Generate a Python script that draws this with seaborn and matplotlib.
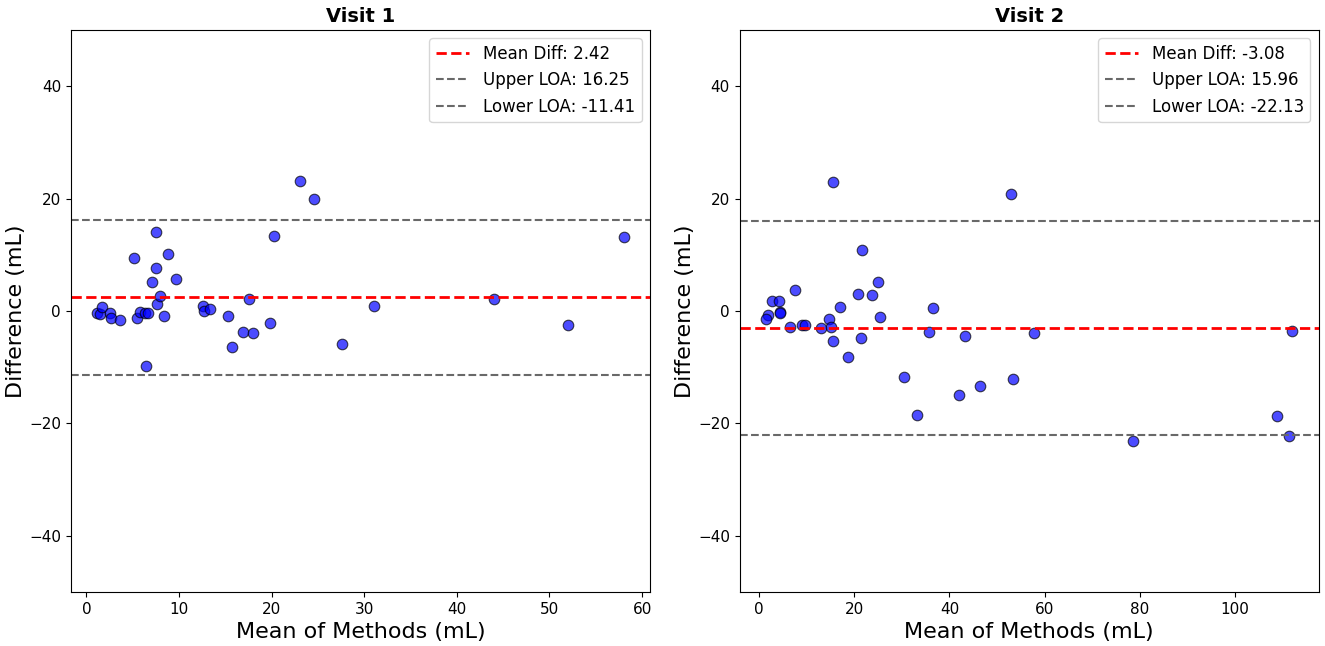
import seaborn as sns
import matplotlib.pyplot as plt
import pandas as pd

# Visit 1 - mean of methods vs difference
v1_mean = [1.15, 1.47, 1.69, 2.52, 2.66, 3.63, 5.17, 5.43, 5.78, 6.32, 6.67, 6.43,
           7.47, 7.50, 7.07, 7.58, 7.97, 8.40, 8.76, 9.69, 12.64, 12.67, 13.39,
           15.25, 15.68, 16.87, 17.98, 17.55, 19.77, 20.28, 23.04, 24.59, 27.56,
           31.0, 44.0, 52.0, 58.0]
v1_diff = [-0.41, -0.6, 0.77, -0.29, -1.19, -1.6, 9.37, -1.25, -0.24, -0.29, -0.29, -9.73,
           14.0, 7.59, 5.16, 1.19, 2.67, -0.83, 10.14, 5.69, 0.95, 0.0, 0.36,
           -0.95, -6.4, -3.68, -3.86, 2.08, -2.08, 13.35, 23.08, 19.98, -5.87,
           0.89, 2.08, -2.43, 13.2]

# Visit 2
v2_mean = [7.58, 2.63, 4.10, 4.30, 4.45, 1.92, 1.43, 6.4, 8.9, 9.7, 13.0, 14.7,
           15.15, 15.6, 16.9, 18.66, 20.8, 21.4, 23.7, 24.9, 25.5,
           15.57, 52.96, 21.6, 36.6, 35.7, 43.3, 57.8, 30.5, 33.1, 42.1, 46.4, 53.4,
           78.5, 108.8, 111.3, 112.1]
v2_diff = [3.74, 1.72, 1.72, -0.2, -0.3, -0.77, -1.42, -2.79, -2.43, -2.43, -2.97, -1.48,
           -2.79, -5.28, 0.65, -8.25, 3.08, -4.86, 2.79, 5.1, -1.07,
           22.95, 20.8, 10.85, 0.47, -3.68, -4.5, -3.9, -11.7, -18.5, -14.95, -13.4, -12.1,
           -23.1, -18.7, -22.2, -3.6]

visits = ["Visit 1", "Visit 2"]
mean_diffs = [2.42, -3.08]
upper_loas = [16.25, 15.96]
lower_loas = [-11.41, -22.13]

df1 = pd.DataFrame({"mean": v1_mean, "diff": v1_diff})
df2 = pd.DataFrame({"mean": v2_mean, "diff": v2_diff})

fig, axes = plt.subplots(1, 2, figsize=(13.25, 6.46), dpi=100)

for ax, df, title, md, up, lo in zip(axes, [df1, df2], visits, mean_diffs, upper_loas, lower_loas):
    sns.scatterplot(data=df, x="mean", y="diff", ax=ax, color="blue", alpha=0.7,
                    edgecolor="black", s=58, linewidth=0.8)
    ax.axhline(md, color="red", linestyle="--", linewidth=2, label=f"Mean Diff: {md:.2f}")
    ax.axhline(up, color="dimgray", linestyle="--", linewidth=1.5, label=f"Upper LOA: {up:.2f}")
    ax.axhline(lo, color="dimgray", linestyle="--", linewidth=1.5, label=f"Lower LOA: {lo:.2f}")
    ax.set_ylim(-50, 50)
    ax.set_title(title, fontsize=14, fontweight="bold")
    ax.set_xlabel("Mean of Methods (mL)", fontsize=16)
    ax.set_ylabel("Difference (mL)", fontsize=16, labelpad=2)
    ax.tick_params(labelsize=11)
    ax.legend(loc="upper right", fontsize=12)

plt.subplots_adjust(left=0.0534, right=0.9953, bottom=0.0836, top=0.9536, wspace=0.155)
plt.savefig("out.png")
